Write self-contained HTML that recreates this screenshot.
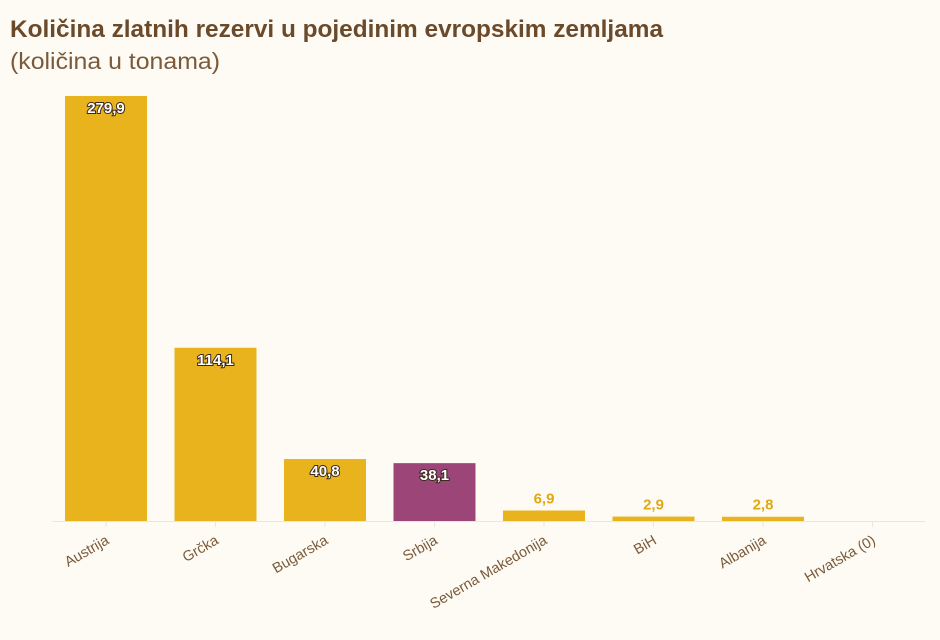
<!DOCTYPE html>
<html><head><meta charset="utf-8"><style>
body{margin:0;background:#fdfbf3;font-family:"Liberation Sans",sans-serif;}
</style></head><body>
<svg width="940" height="635" xmlns="http://www.w3.org/2000/svg">
<rect width="940" height="635" fill="#fdfbf3"/>
<text x="10" y="37" font-size="24" font-weight="bold" fill="#6b4a2b" textLength="653" lengthAdjust="spacingAndGlyphs">Količina zlatnih rezervi u pojedinim evropskim zemljama</text>
<text x="10" y="69" font-size="23" fill="#7a5a3a" textLength="210" lengthAdjust="spacingAndGlyphs">(količina u tonama)</text>
<line x1="52" y1="521.5" x2="925" y2="521.5" stroke="#e8e6e0" stroke-width="1"/>
<g id="bars"></g>
</svg>
<script>
const categories=["Austrija","Grčka","Bugarska","Srbija","Severna Makedonija","BiH","Albanija","Hrvatska (0)"];
const values=[279.9,114.1,40.8,38.1,6.9,2.9,2.8,0];
const labels=["279,9","114,1","40,8","38,1","6,9","2,9","2,8",""];
const highlight=[false,false,false,true,false,false,false,false];
const ns="http://www.w3.org/2000/svg";
const g=document.getElementById('bars');
const base=521, top0=96, maxV=279.9;
const y=v=>base-(v/maxV)*(base-top0);
const x0=65, step=109.5, bw=82;
const x=i=>x0+i*step;
function mk(t,a){const e=document.createElementNS(ns,t);for(const k in a)e.setAttribute(k,a[k]);return e;}
categories.forEach((c,i)=>{
  const v=values[i], cx=x(i)+bw/2;
  const tk=mk('line',{x1:cx,x2:cx,y1:base,y2:base+6,stroke:'#e8e6e0'});
  
  
  g.appendChild(tk);
  if(v>0){
    const r=mk('rect',{x:x(i),y:y(v),width:bw,height:base-y(v),fill:highlight[i]?'#9b4578':'#e8b31c'});
    
    
    g.appendChild(r);
    const inside=(base-y(v))>30;
    const t=mk('text',{x:cx,y:inside?y(v)+17:y(v)-7,'text-anchor':'middle','font-size':'15','font-weight':'bold',fill:inside?'#fff':'#e0a914'});
    if(inside){t.setAttribute('stroke','#3a2a1a');t.setAttribute('stroke-width','2');t.setAttribute('paint-order','stroke');}
    t.textContent=labels[i];
    
    
    g.appendChild(t);
  }
  const l=mk('text',{x:cx+4,y:base+22,'text-anchor':'end','font-size':'14.5',fill:'#7a5a3a',transform:`rotate(-30 ${cx+4} ${base+22})`});
  l.textContent=c;
  
  
  g.appendChild(l);
});
</script>
</body></html>
